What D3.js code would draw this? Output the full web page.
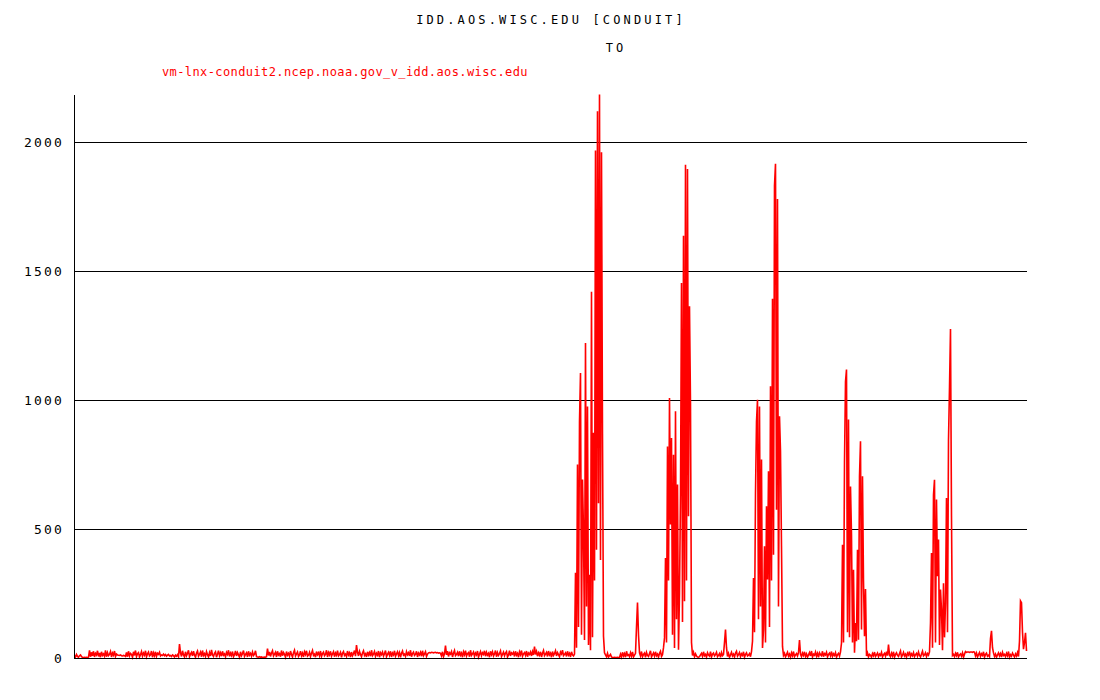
<!DOCTYPE html>
<html>
<head>
<meta charset="utf-8">
<script src="https://cdn.jsdelivr.net/npm/d3@7"></script>
<style>
  html, body { margin: 0; padding: 0; background: #ffffff; }
  svg { display: block; }
</style>
</head>
<body>
<svg id="chart" width="1100" height="700"></svg>
<script>
// ---------- data ----------
const titleLines = ["IDD.AOS.WISC.EDU [CONDUIT]", "TO"];
const seriesLabel = "vm-lnx-conduit2.ncep.noaa.gov_v_idd.aos.wisc.edu";
const yTicks = [0, 500, 1000, 1500, 2000];
const yMax = 2000;

// quiet period (before the first burst)
const quietValues = [
  10, 4, 14, 6, 3, 9, 12, 5,
  3, 2, 3, 2, 3, 2, 3,
  30, 5, 22, 8, 26, 4, 18, 12, 28, 6, 20, 3, 24, 10, 16, 7, 30, 5, 21, 9, 14, 25, 4, 19, 11, 27, 6, 15,
  12, 11, 10, 12, 9, 8, 10, 9, 6,
  22, 5, 26, 8, 18, 14, 3, 24, 10, 29, 6, 17, 21, 4, 13, 25, 7, 19, 11, 28, 5, 16, 23, 8, 12, 27, 3, 20, 9, 24, 6, 18, 14, 22,
  8, 12, 10, 15, 9, 13, 7, 11, 14, 8, 10, 6, 12, 9, 4, 11, 7, 13, 5,
  54,
  20, 6, 28, 12, 4, 24, 9, 18, 30, 5, 15, 22, 8, 26, 11, 3, 19, 27, 7, 14,
  23, 5, 29, 10, 17, 6, 25, 13, 4, 21, 8, 31, 12, 6, 18, 24, 3, 15, 28, 9,
  20, 7, 26, 11, 16, 4, 22, 14, 30, 6, 19, 10, 25, 5, 13, 27, 8, 21, 12, 3,
  24, 9, 17, 29, 6, 14, 20, 4, 26, 11, 18, 7, 23, 10, 15, 28, 5,
  4, 3, 5, 3, 4, 2, 3, 4, 3, 5,
  36,
  10, 24, 6, 19, 28, 8, 15, 22, 4, 26, 12, 17, 5, 29, 9, 21, 14, 3, 25, 11,
  18, 7, 27, 13, 4, 20, 30, 8, 16, 23, 6, 12, 26, 9, 19, 4, 24, 14, 28, 7,
  11, 22, 5, 18, 29, 10, 15, 3, 25, 13, 20, 8, 27, 6, 17, 23, 9, 14, 30, 4,
  21, 12, 26, 7, 16, 24, 5, 19, 11, 28, 8, 13, 22, 3, 18, 25, 10, 15, 6, 27,
  12, 20, 4, 23, 9, 17, 29, 7,
  50,
  22, 8, 26, 14, 5, 19, 28, 10, 16, 4, 24, 12, 21, 7, 30, 9, 15, 25, 6, 18,
  11, 27, 3, 20, 13, 23, 8, 17, 29, 5, 14, 22, 10, 26, 4, 19, 12, 28, 7, 16,
  24, 9, 21, 3, 18, 27, 11, 15, 6, 25, 13, 20, 8, 30, 5, 17, 23, 10, 14, 26,
  4, 19, 12, 22, 7, 28, 9, 16, 24, 6, 15,
  20, 21, 20, 22, 21, 20, 21, 22, 20, 21, 19, 20, 18,
  8, 24, 5, 16,
  48,
  12, 27, 6, 20, 15, 25, 4, 18, 29, 9, 14, 22, 7, 26, 11, 19, 3, 24, 13, 28,
  8, 17, 21, 5, 30, 10, 16, 23, 6, 19, 12, 27, 4, 15, 25, 9, 20, 14, 28, 7,
  22, 11, 18, 3, 26, 13, 24, 8, 16, 29, 5, 21, 10, 17, 27, 6, 14, 23, 9, 19,
  25, 4, 12, 28, 8, 20, 15, 22, 6, 26, 11, 18, 3, 24, 13, 29, 7, 16, 21, 10,
  27, 5, 19, 14, 23, 8, 25, 12,
  44,
  14, 26, 7, 20, 11, 24, 4, 18, 29, 9, 15, 22, 6, 27, 12, 19, 3, 25, 10, 17,
  28, 8, 21, 13, 5, 23, 16, 30, 9, 14, 20, 6, 26, 11, 18, 4, 24, 12, 8, 15
];

// active period (bursts)
const activeValues = [
  330, 40, 750, 120, 917, 1105, 90, 692, 490, 70, 1221, 200, 975, 50, 323, 30, 1420, 80, 873, 300,
  1967, 420, 2119, 600, 2184, 380, 1960, 866, 84, 20,
  12, 5, 18, 3, 9, 14, 4,
  2, 2, 3, 2, 2, 3, 2, 2,
  15, 4, 22, 8, 17, 3, 26, 10, 13, 5, 20, 7, 24, 4, 11, 18,
  120, 215, 90, 20,
  8, 25, 5, 14, 19, 3, 22, 10, 6, 17, 28, 4, 12, 20, 7, 24, 9, 15, 3, 18, 26, 6, 13,
  40, 78, 388, 60, 820, 300, 1008, 517, 853, 90, 788, 39, 956, 150, 672, 32, 252,
  633, 1453, 140, 1637, 220, 1912, 300, 1895, 549, 1363, 982, 60,
  10, 22, 5, 16, 8, 4, 3, 5, 12, 18, 6, 24, 9, 14, 3, 20, 11, 7, 25, 4, 15, 19, 8, 13, 22, 5, 10, 17, 3, 21, 9, 14,
  60, 110, 40,
  6, 18, 3, 12, 22, 8, 15, 4, 19, 26, 7, 13, 21, 5, 16, 10, 24, 3, 14, 20, 8, 11, 17, 5, 25,
  65, 310, 100, 640, 917, 1001, 150, 975, 200, 769, 39, 110, 433, 60, 588, 304, 724, 120,
  1053, 300, 1392, 400, 1831, 1916, 575, 1779, 200, 937, 801, 433, 45,
  10, 18, 4, 13, 22, 7, 15, 3, 20, 9, 25, 5, 12, 17, 8, 21,
  70,
  14, 5, 19, 10, 24, 6, 16, 3, 12, 21, 8, 27, 4, 15, 11, 23, 7, 18, 3, 20,
  13, 9, 26, 5, 17, 12, 22, 4, 14, 19, 8, 25, 6, 16, 10, 21, 3, 13, 18, 7, 24,
  58, 439, 60, 762, 1072, 1118, 100, 924, 80, 665, 478, 60, 342, 20, 136, 65, 420, 71, 704, 840,
  110, 704, 297, 84, 267,
  8, 20, 4, 14, 11, 3, 17, 9, 23, 6, 12, 19, 5, 15, 10, 22, 4, 13, 18, 7, 25, 9,
  52,
  12, 5, 19, 8, 24, 3, 14, 20, 10, 6, 17, 27, 4, 11, 22, 8, 15, 3, 19, 12,
  25, 6, 16, 9, 21, 5, 13, 18, 7, 23, 10, 4, 15, 26, 8, 12, 20, 5, 17, 11, 24,
  136, 407, 40, 633, 691, 60, 614, 317, 459, 50, 265, 187, 30, 290, 80, 213, 620, 100, 846, 1047,
  1275, 550, 10,
  14, 5, 18, 9, 22, 4, 12, 16, 7, 20, 3, 15, 25, 22, 23, 23, 22, 23, 23, 22,
  24, 23, 8, 19, 4, 13, 21, 6, 16, 10, 24, 3, 14, 19, 7, 11, 5,
  75, 105, 40, 20,
  6, 15, 3, 12, 20, 8, 17, 4, 22, 10, 14, 5, 18, 9, 25, 3, 13, 7, 19, 11, 4, 16, 8, 21, 6,
  66, 221, 214, 100, 34, 60, 98, 27
];

// ---------- drawing ----------
const values = quietValues.concat(activeValues);
const svg = d3.select("#chart");

const plot = { left: 74, right: 1027, top: 95, bottom: 658, lineEnd: 1026 };

const x = d3.scaleLinear()
  .domain([0, values.length - 1])
  .range([plot.left, plot.lineEnd]);

const y = d3.scaleLinear()
  .domain([0, yMax])
  .range([plot.bottom, 142]);

const monoFont = "'DejaVu Sans Mono', 'Liberation Mono', monospace";

// titles
svg.append("text")
  .attr("x", 551).attr("y", 24)
  .attr("text-anchor", "middle")
  .attr("font-family", monoFont)
  .attr("font-size", 12)
  .attr("letter-spacing", 3.15)
  .attr("fill", "#000")
  .text(titleLines[0]);

svg.append("text")
  .attr("x", 616).attr("y", 52)
  .attr("text-anchor", "middle")
  .attr("font-family", monoFont)
  .attr("font-size", 12)
  .attr("letter-spacing", 3)
  .attr("fill", "#000")
  .text(titleLines[1]);

svg.append("text")
  .attr("x", 162).attr("y", 76)
  .attr("font-family", monoFont)
  .attr("font-size", 12)
  .attr("letter-spacing", 0.4)
  .attr("fill", "#ff0000")
  .text(seriesLabel);

// gridlines
svg.append("g")
  .selectAll("line")
  .data(yTicks.filter(d => d > 0))
  .join("line")
  .attr("x1", plot.left).attr("x2", plot.right)
  .attr("y1", d => Math.round(y(d)) + 0.5)
  .attr("y2", d => Math.round(y(d)) + 0.5)
  .attr("stroke", "#000")
  .attr("stroke-width", 1)
  .attr("shape-rendering", "crispEdges");

// y axis labels via d3 axis
const yAxis = d3.axisLeft(y)
  .tickValues(yTicks)
  .tickSize(0)
  .tickPadding(10)
  .tickFormat(d3.format("d"));

const gY = svg.append("g")
  .attr("transform", `translate(${plot.left},0)`)
  .call(yAxis);
gY.select(".domain").remove();
gY.selectAll("text")
  .attr("font-family", monoFont)
  .attr("font-size", 13)
  .attr("letter-spacing", 2.2)
  .attr("fill", "#000");

// data line
const line = d3.line()
  .x((d, i) => x(i) + 0.5)
  .y(d => y(d));

svg.append("path")
  .datum(values)
  .attr("d", line)
  .attr("fill", "none")
  .attr("stroke", "#ff0000")
  .attr("stroke-width", 1.6)
  .attr("stroke-linejoin", "miter");

// axes frame (left + bottom)
svg.append("line")
  .attr("x1", plot.left + 0.5).attr("x2", plot.left + 0.5)
  .attr("y1", plot.top).attr("y2", plot.bottom + 1)
  .attr("stroke", "#000").attr("shape-rendering", "crispEdges");
svg.append("line")
  .attr("x1", plot.left).attr("x2", plot.right)
  .attr("y1", plot.bottom + 0.5).attr("y2", plot.bottom + 0.5)
  .attr("stroke", "#000").attr("shape-rendering", "crispEdges");
</script>
</body>
</html>
